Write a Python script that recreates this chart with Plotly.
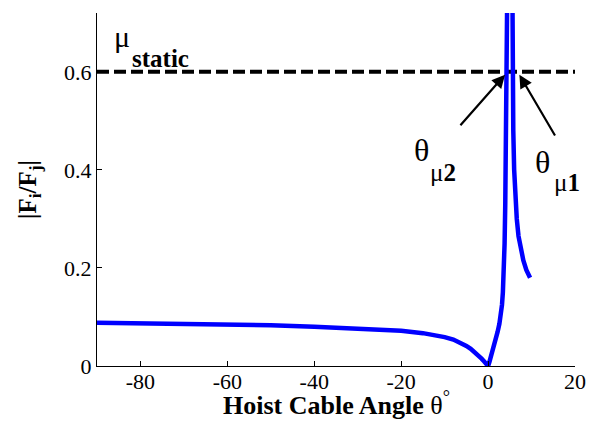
import plotly.graph_objects as go

# Left branch of |Fi/Fj| (theta in degrees)
theta_a = [-90, -80, -70, -60, -50, -40, -30, -25, -20, -15, -12, -10, -8, -7, -6, -5, -4, -3, -2,
           -1.5, -1, -0.5, 0,
           0.3, 0.6, 1.0, 1.4, 1.8, 2.2, 2.6, 2.9, 3.2, 3.4, 3.6, 3.8, 3.95, 4.07, 4.2, 4.3, 4.4, 4.5]
ratio_a = [0.088, 0.087, 0.086, 0.085, 0.083, 0.080, 0.077, 0.075, 0.072, 0.067, 0.063, 0.059,
           0.054, 0.050, 0.046, 0.041, 0.035, 0.028, 0.020,
           0.015, 0.010, 0.005, 0.0,
           0.008, 0.017, 0.030, 0.043, 0.056, 0.070, 0.086, 0.100, 0.125, 0.150, 0.190, 0.250,
           0.330, 0.420, 0.520, 0.600, 0.700, 0.850]
# Right branch (after the asymptote)
theta_b = [5.5, 5.55, 5.65, 5.8, 6.0, 6.3, 6.6, 7.0, 7.4, 8.1, 8.8, 9.66]
ratio_b = [0.90, 0.70, 0.58, 0.48, 0.40, 0.34, 0.30, 0.265, 0.243, 0.216, 0.196, 0.180]

mu_static = 0.6
x_ticks = [-80, -60, -40, -20, 0, 20]
x_labels = ["-80", "-60", "-40", "-20", "0", "20"]
y_ticks = [0, 0.2, 0.4, 0.6]
y_labels = ["0", "0.2", "0.4", "0.6"]

FONT = "Liberation Serif"

fig = go.Figure()
fig.add_trace(go.Scatter(x=[-90, 20], y=[mu_static, mu_static], mode="lines",
                         line=dict(color="black", width=4, dash="12px,5px"),
                         hoverinfo="skip", showlegend=False))
fig.add_trace(go.Scatter(x=theta_a, y=ratio_a, mode="lines",
                         line=dict(color="#0000FF", width=4.5),
                         showlegend=False))
fig.add_trace(go.Scatter(x=theta_b, y=ratio_b, mode="lines",
                         line=dict(color="#0000FF", width=4.5),
                         showlegend=False))


def label(x, y, text, size):
    return dict(x=x, y=y, xref="x", yref="y", text=text, showarrow=False,
                xanchor="left", yanchor="middle",
                font=dict(size=size, family=FONT, color="black"))


annos = [
    label(-86.6, 0.672, "μ", 30),
    label(-82.3, 0.628, "<b>static</b>", 25),
    label(-17.5, 0.441, "θ", 32),
    label(-13.8, 0.395, "μ<b>2</b>", 25),
    label(10.3, 0.416, "θ", 32),
    label(14.7, 0.375, "μ<b>1</b>", 25),
    dict(x=3.9, y=0.594, ax=-6.67, ay=0.488, axref="x", ayref="y", xref="x", yref="y",
         text="", showarrow=True, arrowhead=2, arrowsize=1.2, arrowwidth=2.2, arrowcolor="black"),
    dict(x=7.2, y=0.594, ax=15.6, ay=0.467, axref="x", ayref="y", xref="x", yref="y",
         text="", showarrow=True, arrowhead=2, arrowsize=1.2, arrowwidth=2.2, arrowcolor="black"),
    # x-axis title
    dict(x=0.5, y=-0.1586, xref="paper", yref="paper", xanchor="center", yanchor="bottom",
         text="<b>Hoist Cable Angle </b>θ<sup>°</sup>", showarrow=False,
         font=dict(size=26, family=FONT, color="black")),
]

fig.update_layout(
    width=593, height=423, autosize=False,
    margin=dict(l=97, r=18, t=13, b=57, pad=0, autoexpand=False),
    paper_bgcolor="white", plot_bgcolor="white",
    font=dict(family=FONT, size=22, color="black"),
    annotations=annos,
    xaxis=dict(range=[-90, 20], tickvals=x_ticks, ticktext=x_labels, automargin=False,
               ticks="inside", ticklen=5, tickcolor="black", tickwidth=1,
               tickfont=dict(size=22, family=FONT), ticklabelstandoff=-4,
               showline=True, linecolor="black", linewidth=1, showgrid=False, zeroline=False),
    yaxis=dict(range=[0, 0.72], tickvals=y_ticks, ticktext=y_labels, automargin=False,
               ticks="inside", ticklen=5, tickcolor="black", tickwidth=1,
               tickfont=dict(size=22, family=FONT),
               showline=True, linecolor="black", linewidth=1, showgrid=False, zeroline=False,
               title=dict(text="<b>|F<sub>i</sub>/F<sub>j</sub>|</b>", standoff=20,
                          font=dict(size=25, family=FONT))),
)

fig.write_html("out.html")
